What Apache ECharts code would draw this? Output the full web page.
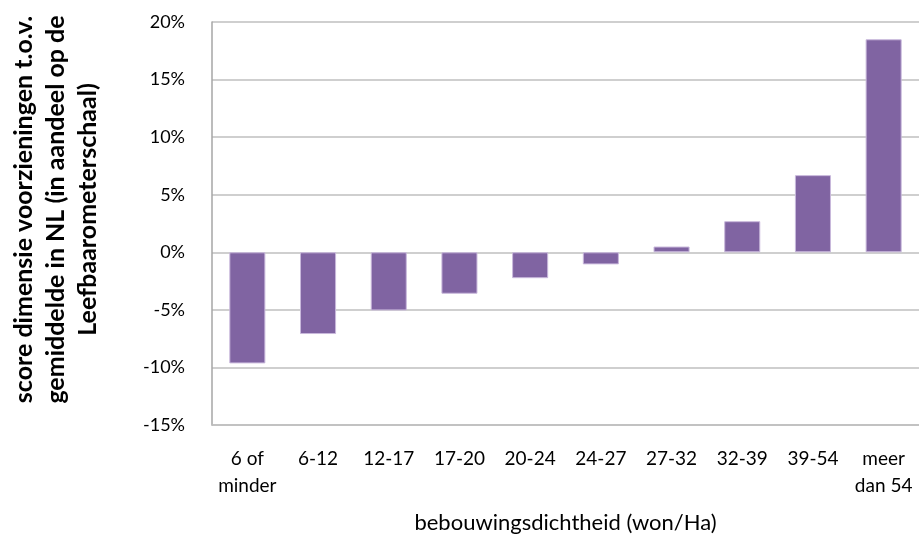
<!DOCTYPE html>
<html>
<head>
<meta charset="utf-8">
<style>
  html, body { margin: 0; padding: 0; background: #fff; }
  #main { width: 919px; height: 539px; }
</style>
<script src="https://cdn.jsdelivr.net/npm/echarts@6/dist/echarts.min.js"></script>
</head>
<body>
<div id="main"></div>
<script>
// categorieen: bebouwingsdichtheid
var categories = ['6 of\nminder', '6-12', '12-17', '17-20', '20-24', '24-27', '27-32', '32-39', '39-54', 'meer\ndan 54'];
// score in procenten t.o.v. gemiddelde NL
var scores = [-9.65, -7.1, -5.05, -3.6, -2.25, -1.05, 0.5, 2.7, 6.7, 18.5];
var yTicks = [-15, -10, -5, 0, 5, 10, 15, 20];

var fontName = 'Lato';
var myChart = echarts.init(document.getElementById('main'));
var option = {
    animation: false,
    grid: {
        left: 212,
        right: 0,
        top: 22,
        bottom: 113
    },
    xAxis: {
        type: 'category',
        data: categories,
        position: 'bottom',
        axisLine: { onZero: false, lineStyle: { color: '#BFBFBF', width: 1.5 } },
        axisTick: { show: false },
        axisLabel: {
            color: '#000',
            fontFamily: fontName,
            fontSize: 19,
            lineHeight: 27,
            margin: 20,
            interval: 0
        },
        name: 'bebouwingsdichtheid (won/Ha)',
        nameLocation: 'middle',
        nameGap: 87,
        nameTextStyle: { color: '#000', fontFamily: fontName, fontSize: 22 }
    },
    yAxis: {
        type: 'value',
        min: yTicks[0],
        max: yTicks[yTicks.length - 1],
        interval: 5,
        axisLine: { show: true, lineStyle: { color: '#A6A6A6', width: 1.5 } },
        axisTick: { show: false },
        splitLine: { lineStyle: { color: '#BFBFBF', width: 1.5 } },
        axisLabel: {
            color: '#000',
            fontFamily: fontName,
            fontSize: 18,
            margin: 27,
            formatter: function (v) { return v + '%'; }
        },
        name: 'score dimensie voorzieningen t.o.v.\ngemiddelde in NL (in aandeel op de\nLeefbaarometerschaal)',
        nameLocation: 'middle',
        nameRotate: 90,
        nameGap: 108,
        nameTextStyle: {
            color: '#000',
            fontFamily: fontName,
            fontSize: 25,
            fontWeight: 'bold',
            lineHeight: 32,
            align: 'center',
            padding: [0, 0, 0, 28]
        }
    },
    series: [{
        type: 'bar',
        data: scores,
        barWidth: '51%',
        itemStyle: {
            color: '#8064A2',
            borderColor: '#C9B9DC',
            borderWidth: 1
        }
    }]
};
myChart.setOption(option, true);
</script>
</body>
</html>
